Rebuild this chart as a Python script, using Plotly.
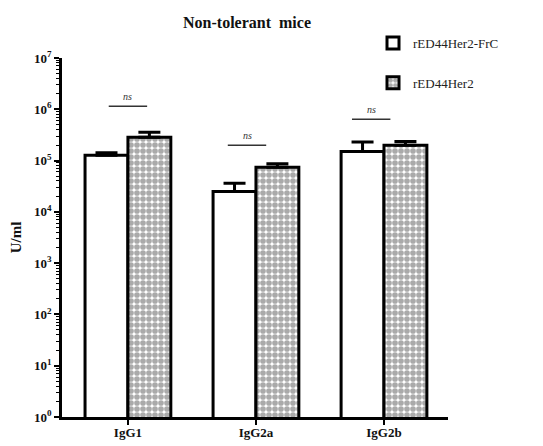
import math
import plotly.graph_objects as go

categories = ["IgG1", "IgG2a", "IgG2b"]
series_names = ["rED44Her2-FrC", "rED44Her2"]
frc_values = [1.27e5, 2.5e4, 1.5e5]
frc_err_top = [1.42e5, 3.6e4, 2.3e5]
her2_values = [2.85e5, 7.4e4, 2.0e5]
her2_err_top = [3.55e5, 8.7e4, 2.35e5]
ns_labels = ["ns", "ns", "ns"]
ns_heights = [1.15e6, 2.0e5, 6.4e5]
y_tick_exps = [0, 1, 2, 3, 4, 5, 6, 7]

SERIF = "Liberation Serif, Times New Roman, serif"
W, H = 535, 438

fig = go.Figure()
fig.add_trace(go.Bar(
    name=series_names[0], x=categories, y=frc_values, legendgroup="a",
    marker=dict(color="white", line=dict(color="black", width=3)),
    error_y=dict(type="data", symmetric=False,
                 array=[t - v for t, v in zip(frc_err_top, frc_values)],
                 arrayminus=[0, 0, 0], color="black", thickness=3, width=11),
))
fig.add_trace(go.Bar(
    name=series_names[1], x=categories, y=her2_values, legendgroup="b",
    marker=dict(color="white", line=dict(color="black", width=3),
                pattern=dict(shape=".", fgcolor="#555555", bgcolor="white",
                             size=6, solidity=0.7)),
    error_y=dict(type="data", symmetric=False,
                 array=[t - v for t, v in zip(her2_err_top, her2_values)],
                 arrayminus=[0, 0, 0], color="black", thickness=3, width=11),
))

# significance lines and labels
offsets = [0.0, -0.07, -0.1]
for i, (lab, h) in enumerate(zip(ns_labels, ns_heights)):
    c = i + offsets[i]
    fig.add_shape(type="line", xref="x", yref="y", x0=c - 0.15, x1=c + 0.15,
                  y0=h, y1=h, line=dict(color="#333", width=1.5))
    fig.add_annotation(x=c, y=math.log10(h), xref="x", yref="y",
                       text="<i>" + lab + "</i>",
                       showarrow=False, yanchor="bottom", yshift=2,
                       font=dict(family=SERIF, size=10, color="#333"))

fig.update_layout(
    width=W, height=H,
    margin=dict(l=54, r=95, t=50, b=29, autoexpand=False),
    paper_bgcolor="white", plot_bgcolor="white",
    barmode="group", bargap=0.33, bargroupgap=0,
    title=dict(text="<b>Non-tolerant  mice</b>", x=239 / W, xanchor="center",
               y=1 - 14 / H, yanchor="middle", xref="container", yref="container",
               font=dict(family=SERIF, size=16, color="#111")),
    font=dict(family=SERIF, color="#111"),
    legend=dict(x=365 / W, y=1 - 20 / H, xref="container", yref="container",
                xanchor="left", yanchor="top", bgcolor="rgba(0,0,0,0)",
                font=dict(family=SERIF, size=13, color="#222"),
                tracegroupgap=20, itemwidth=30),
    showlegend=True,
)
fig.update_xaxes(
    range=[-0.515, 2.5], showline=True, linecolor="black", linewidth=2.5,
    ticks="outside", ticklen=5, tickwidth=1.5, tickcolor="black",
    tickvals=[0, 1, 2], ticktext=["<b>" + c + "</b>" for c in categories],
    tickfont=dict(family=SERIF, size=13, color="#111"), showgrid=False,
    zeroline=False, ticklabelstandoff=-3,
)
fig.update_yaxes(
    type="log", range=[0, 7], showline=True, linecolor="black", linewidth=2.5,
    ticks="outside", ticklen=5, tickwidth=2, tickcolor="black",
    tickvals=[10 ** e for e in y_tick_exps],
    ticktext=["<b>10<sup>%d</sup></b>" % e for e in y_tick_exps],
    tickfont=dict(family=SERIF, size=13, color="#111"),
    showgrid=False, zeroline=False,
    minor=dict(ticks="outside", ticklen=3, tickwidth=1, tickcolor="black",
               dtick="D1", showgrid=False),
    title=dict(text="<b>U/ml</b>", font=dict(family=SERIF, size=15, color="#111"),
               standoff=10),
)

fig.write_html("out.html")
